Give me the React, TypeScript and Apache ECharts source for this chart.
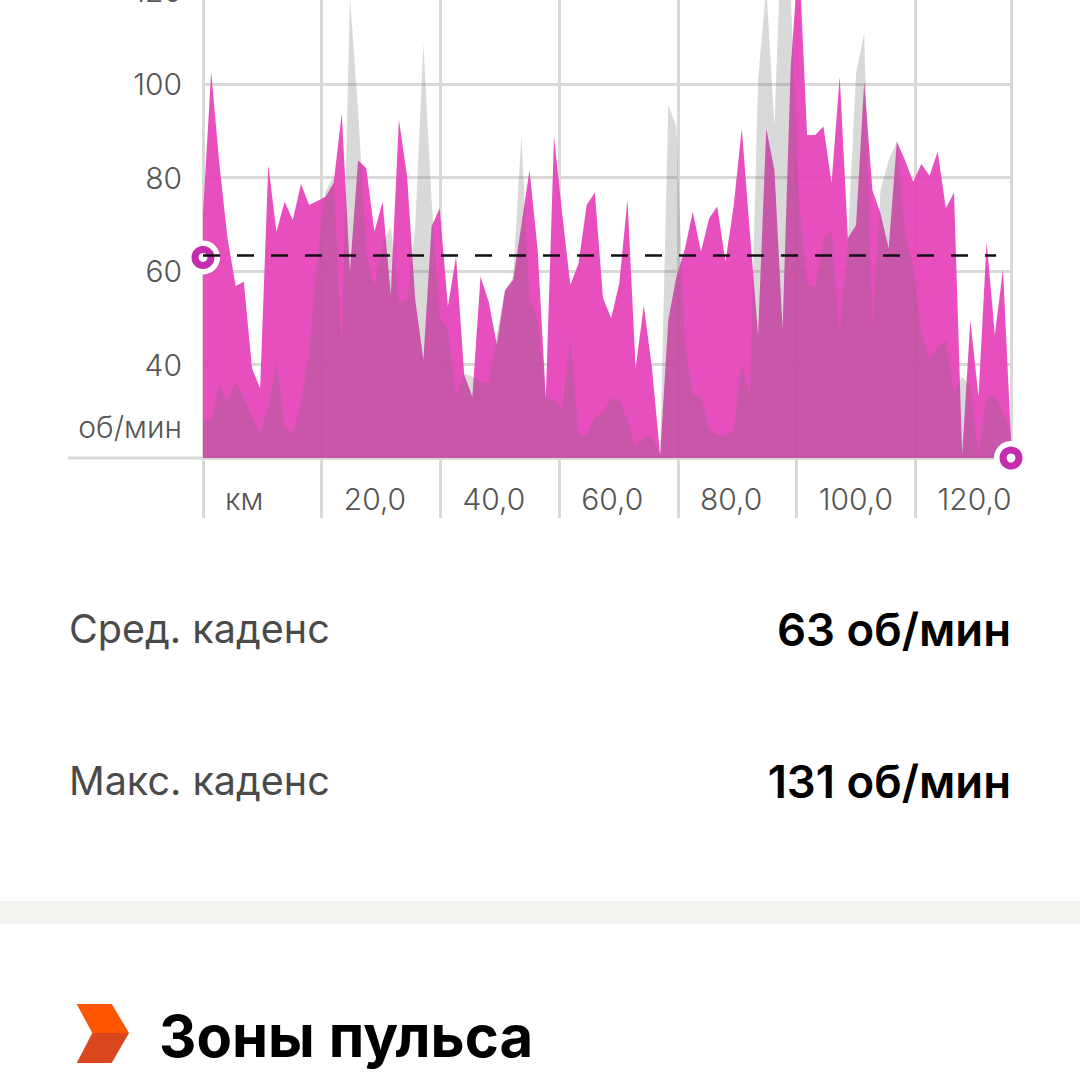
import React, { useEffect, useRef } from "react";
import * as echarts from "echarts";

const sampleStepKm = 1.375;
const cadence = [72.3,102.6,83.0,67.0,56.8,57.7,39.2,34.9,82.7,68.4,74.8,70.9,78.6,74.1,75.0,75.9,78.8,93.7,59.9,83.7,82.0,68.4,74.8,54.9,92.4,80.2,53.8,41.0,69.5,73.4,52.4,63.1,37.8,33.1,58.8,53.4,44.2,55.9,58.1,69.8,81.6,64.5,32.8,88.7,72.3,57.0,61.6,74.1,76.8,54.2,49.9,57.4,75.3,39.2,52.7,39.2,20.6,49.5,58.8,64.5,72.7,64.1,71.3,73.8,62.0,73.8,90.5,68.1,46.3,90.5,81.6,47.7,103.7,128,89.1,89.1,90.9,78.8,101.6,67.0,69.8,100.5,77.3,72.3,64.8,87.7,83.7,79.1,82.9,80.4,85.5,73.4,76.8,20.6,49.5,33.1,66.3,46.3,60.4,23.9];
const overlay = [27.6,28.0,36.0,31.7,36.3,32.8,28.8,25.3,31.0,40.6,26.7,24.9,31.7,42.4,62.4,77.0,80.2,43.1,118.7,94.4,63.8,56.6,65.9,69.5,53.4,53.8,69.5,108.7,75.2,49.5,47.7,33.1,38.0,37.4,36.3,36.1,46.7,55.9,58.8,89.1,53.8,49.5,32.8,32.4,30.3,46.0,24.9,24.9,28.8,29.6,32.8,32.4,28.1,22.4,24.6,24.6,20.6,95.5,90.9,45.2,33.8,33.1,26.0,24.9,24.6,26.0,40.2,33.8,100.9,120.8,90.9,139,118.7,75.2,57.4,56.3,66.6,68.8,46.3,66.6,102.3,110.8,47.7,77.3,83.7,87.7,68.1,60.9,46.7,41.0,43.8,45.2,33.8,37.4,35.3,20.6,33.1,33.5,29.6,25.3];
const avgCadence = 63.3;
const maxKm = 136.1;
const dashEndKm = 133.6;
const unitX = "км";
const unitY = "об/мин";
const rows = [
  { label: "Сред. каденс", value: "63 об/мин", y: 629 },
  { label: "Макс. каденс", value: "131 об/мин", y: 781 },
];
const heading = "Зоны пульса";

const FONT = "Inter";
const LINE = "#d9d9d7";
const RING = "#c42dae";
const OFFSET = 103;

export default function App() {
  const ref = useRef<HTMLDivElement>(null);
  useEffect(() => {
    document.body.style.margin = "0";
    document.body.style.overflow = "hidden";
    const chart = echarts.init(ref.current!, undefined, { renderer: "svg" });
    const toPts = (a: number[]) => a.map((v, i) => [Math.min(i * sampleStepKm, maxKm), v]);
    const area = (name: string, data: number[], color: string, z: number) => ({
      name,
      type: "line",
      data: toPts(data),
      showSymbol: false,
      z,
      lineStyle: { width: 0 },
      areaStyle: { color, opacity: 1, origin: "start" },
      itemStyle: { color },
    });
    chart.setOption({
      animation: false,
      backgroundColor: "#ffffff",
      grid: { left: 203, right: 69, top: 0, bottom: 622, containLabel: false },
      xAxis: {
        type: "value",
        min: 0,
        max: maxKm,
        interval: 20,
        axisLine: { show: true, onZero: false, lineStyle: { color: LINE, width: 3 } },
        axisTick: { show: true, length: 60, lineStyle: { color: LINE, width: 3 } },
        splitLine: { show: true, lineStyle: { color: LINE, width: 3 } },
        axisLabel: {
          show: true,
          showMinLabel: true,
          showMaxLabel: false,
          margin: 26,
          align: "left",
          padding: [0, 0, 0, 22],
          color: "#555555",
          fontFamily: FONT,
          fontSize: 30,
          fontWeight: 300,
          formatter: (v: number) =>
            v === 0 ? unitX : v % 20 === 0 ? v.toFixed(1).replace(".", ",") : "",
        },
      },
      yAxis: {
        type: "value",
        min: 20,
        max: 140,
        interval: 20,
        axisLine: { show: false },
        axisTick: { show: false },
        splitLine: { show: true, lineStyle: { color: LINE, width: 3 } },
        axisLabel: {
          margin: 21,
          color: "#555555",
          fontFamily: FONT,
          fontSize: 30,
          fontWeight: 300,
          formatter: (v: number) => (v === 20 || v === 140 ? "" : String(v)),
        },
      },
      series: [
        area("Каденс", cadence, "rgba(230,66,185,0.93)", 2),
        {
          ...area("Высота", overlay, "rgba(108,108,108,0.26)", 3),
          markLine: {
            silent: true,
            symbol: "none",
            label: { show: false },
            lineStyle: { color: "#111111", width: 2.5, type: [17, 17] },
            data: [[{ coord: [0, avgCadence] }, { coord: [dashEndKm, avgCadence] }]],
            z: 7,
          },
        },
        {
          type: "scatter",
          clip: false,
          z: 5,
          symbolSize: 34,
          itemStyle: { color: "#ffffff", opacity: 1 },
          data: [[0, avgCadence - 0.4], [maxKm, 20]],
        },
        {
          type: "scatter",
          clip: false,
          z: 6,
          symbolSize: 16,
          itemStyle: { color: "#ffffff", borderColor: RING, borderWidth: 7, opacity: 1 },
          data: [[0, avgCadence - 0.4], [maxKm, 20]],
        },
      ],
      graphic: [
        {
          type: "group",
          x: 0,
          y: OFFSET,
          children: [
            { type: "line", z: 1, shape: { x1: 68, y1: 458, x2: 203, y2: 458 }, style: { stroke: LINE, lineWidth: 3 } },
            {
              type: "text", x: 182, y: 427,
              style: { text: unitY, align: "right", verticalAlign: "middle", fill: "#555555", font: `300 30px ${FONT}` },
            },
            ...rows.flatMap((r) => [
              { type: "text", x: 69, y: r.y, style: { text: r.label, align: "left", verticalAlign: "middle", fill: "#4a4a4a", font: `400 39.5px ${FONT}` } },
              { type: "text", x: 1011, y: r.y, style: { text: r.value, align: "right", verticalAlign: "middle", fill: "#000000", font: `600 45.5px ${FONT}` } },
            ]),
            { type: "rect", shape: { x: 0, y: 901, width: 1080, height: 23 }, style: { fill: "#f3f2ee" } },
            { type: "polygon", shape: { points: [[76.7, 1004], [111.7, 1004], [129, 1033], [92.3, 1033]] }, style: { fill: "#ff5500" } },
            { type: "polygon", shape: { points: [[92.3, 1033], [129, 1033], [111.7, 1063], [76.7, 1063]] }, style: { fill: "#d9481c" } },
            { type: "text", x: 159, y: 1036, style: { text: heading, align: "left", verticalAlign: "middle", fill: "#000000", font: `700 58px ${FONT}` } },
          ],
        },
      ],
    });
    return () => chart.dispose();
  }, []);
  return <div ref={ref} style={{ position: "absolute", left: 0, top: -OFFSET, width: 1080, height: 1080 + OFFSET }} />;
}
